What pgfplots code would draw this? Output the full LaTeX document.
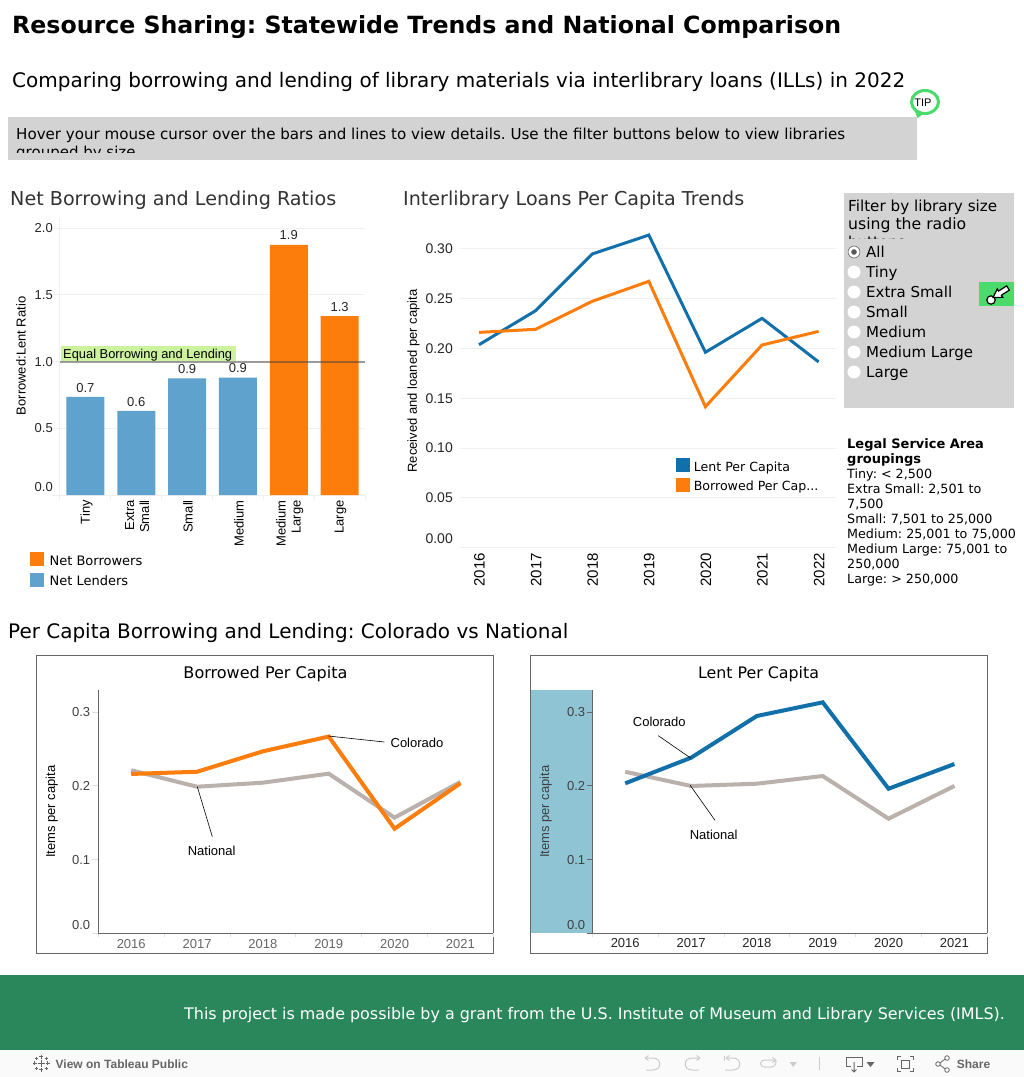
\documentclass[border=0pt]{standalone}
\usepackage{pgfplots}
\pgfplotsset{compat=1.18}
\usepackage{graphicx}
\usepackage{fontspec}
\setmainfont{DejaVu Sans}
\newfontfamily\arial{Liberation Sans}
\frenchspacing
\definecolor{cBlue}{HTML}{1170AA}
\definecolor{cOrange}{HTML}{FC7D0B}
\definecolor{cLight}{HTML}{5FA2CE}
\definecolor{cNat}{HTML}{BAB0AC}
\definecolor{cGrid}{HTML}{F0F0F0}
\definecolor{cBox}{HTML}{D3D3D3}
\definecolor{cGreen}{HTML}{2A875C}
\definecolor{cTip}{HTML}{4ADB6C}
\definecolor{cPanel}{HTML}{8FC4D4}
\definecolor{cFrame}{HTML}{666666}
\definecolor{cHi}{HTML}{CDF29E}
\definecolor{cIconL}{HTML}{CCCCCC}
\definecolor{cIconD}{HTML}{666666}
\newcommand{\fs}[1]{\fontsize{#1}{#1}\selectfont}
% text with exact width: x, baseline y, width, size, text
\newcommand{\TW}[6][black]{\node[anchor=base west,inner sep=0pt,text=#1] at (#2,#3) {\resizebox{#4pt}{!}{\fs{#5}#6}};}
\newcommand{\T}[5][black]{\node[anchor=base west,inner sep=0pt,text=#1] at (#2,#3) {\fs{#4}#5};}
\pgfplotsset{
  swatch/.style={legend image code/.code={\fill[##1,draw=none] (0pt,-5pt) rectangle (14pt,9pt); \path (#1,0pt);}},
}
\begin{document}
\begin{tikzpicture}[x=1pt,y=-1pt]
\path[use as bounding box,fill=white] (0,0) rectangle (1024,1077);
% header
\TW{12}{33}{829}{24}{\bfseries Resource Sharing: Statewide Trends and National Comparison}
\TW{12}{87}{893}{20}{Comparing borrowing and lending of library materials via interlibrary loans (ILLs) in 2022}
\fill[cBox] (8,117) rectangle (917,160);
\begin{scope}
\clip (8,117) rectangle (917,152);
\TW{16}{139}{829}{15}{Hover your mouse cursor over the bars and lines to view details. Use the filter buttons below to view libraries}
\T{16}{157}{15}{grouped by size}
\end{scope}
% tip bubble
\fill[cTip] (914,109) -- (923,114) -- (917.5,118) -- cycle;
\draw[cTip,line width=3pt,fill=white] (925,102) ellipse (13.5 and 11.5);
\node[inner sep=0pt] at (923,103) {\arial\fs{11}TIP};
% section titles
\TW[black!80]{10}{205}{326}{18}{Net Borrowing and Lending Ratios}
\TW[black!80]{403}{205}{341}{18}{Interlibrary Loans Per Capita Trends}
\TW{8}{638}{560}{19}{Per Capita Borrowing and Lending: Colorado vs National}
% filter box
\fill[cBox] (844,193) rectangle (1014,408);
\begin{scope}
\clip (844,193) rectangle (1014,238);
\TW{848}{211}{149}{15}{Filter by library size}
\TW{848}{229}{118}{15}{using the radio}
\T{848}{247}{15}{buttons}
\end{scope}
\foreach \yy/\lab in {252/All,272/Tiny,292/Extra Small,312/Small,332/Medium,352/Medium Large,372/Large}{
  \fill[white] (854,\yy) circle (6.5);
  \node[anchor=base west,inner sep=0pt] at (866,\yy+5) {\fs{15}\lab};
}
\draw[black!60,line width=0.7pt] (854,252) circle (6);
\fill[black!65] (854,252) circle (2.8);
% pointer box
\fill[cTip] (978.5,282) rectangle (1014,306);
\fill[white,draw=black,line width=1.2pt] (991,300) circle (4.2);
\fill[white,draw=black,line width=1.2pt,line join=miter]
  (1009.4,290.1) -- (1006.6,285.9) -- (998.6,291) -- (997.3,288.9) -- (993,297.6) -- (1002.7,297.3) -- (1001.4,295.2) -- cycle;
% legal
\T{847}{448}{13}{\bfseries Legal Service Area}
\T{847}{463}{13}{\bfseries groupings}
\T{847}{478}{12.7}{Tiny: < 2,500}
\T{847}{493}{12.7}{Extra Small: 2,501 to}
\T{847}{508}{12.7}{7,500}
\T{847}{523}{12.7}{Small: 7,501 to 25,000}
\T{847}{538}{12.7}{Medium: 25,001 to 75,000}
\T{847}{553}{12.7}{Medium Large: 75,001 to}
\T{847}{568}{12.7}{250,000}
\T{847}{583}{12.7}{Large: > 250,000}

\fill[cHi] (61,346) rectangle (236,362);
%%% Bar chart
\begin{axis}[
  at={(60pt,-218pt)},anchor=north west,width=305pt,height=277pt,scale only axis,
  xmin=-0.5,xmax=5.5,ymin=0,ymax=2.076,
  axis x line=bottom,axis y line=left,axis line style={-,draw=cGrid,line width=1pt},
  ytick={0,0.5,1,1.5,2},
  yticklabels={\raisebox{16pt}{0.0},0.5,1.0,1.5,2.0},
  xtick={0,1,2,3,4,5},
  xticklabels={Tiny,{Extra\\Small},Small,Medium,{Medium\\Large},Large},
  minor xtick={-0.5,0.5,1.5,2.5,3.5,4.5,5.5},
  major tick length=7pt,minor tick length=5pt,tick align=outside,
  major x tick style={draw=none},
  major y tick style={draw=cGrid,line width=1pt},
  minor x tick style={draw=cGrid,line width=1pt},
  ymajorgrids,grid style={cGrid,line width=1pt},
  yticklabel style={font=\arial\fs{13},inner sep=0pt,text=black!85},
  xticklabel style={rotate=90,anchor=east,align=right,font=\arial\fontsize{13}{15}\selectfont,inner sep=0pt,xshift=2pt,yshift=-1pt},
  ylabel={Borrowed:Lent Ratio},
  every axis y label/.style={at={(rel axis cs:-0.128,0.502)},rotate=90,anchor=center,font=\arial\fs{13}},
  legend style={at={(rel axis cs:-0.098,-0.2058)},anchor=north west,draw=none,fill=none,inner sep=0pt,row sep=6pt,font=\fs{13},nodes={inner sep=0pt}},
  legend cell align=left,swatch=19.3pt,
  every node near coord/.append style={font=\arial\fs{13},inner sep=0pt,yshift=4.5pt,text=black!85},
]
\addplot[ybar,bar width=38pt,bar shift=0pt,draw=none,fill=cOrange,
  nodes near coords={\pgfmathprintnumber[fixed,fixed zerofill,precision=1,assume math mode=true]{\pgfplotspointmeta}}]
  coordinates {(4,1.875)(5,1.34)};
\addlegendentry{Net Borrowers}
\addplot[ybar,bar width=38pt,bar shift=0pt,draw=none,fill=cLight,
  nodes near coords={\pgfmathprintnumber[fixed,fixed zerofill,precision=1,assume math mode=true]{\pgfplotspointmeta}}]
  coordinates {(0,0.735)(1,0.63)(2,0.875)(3,0.88)};
\addlegendentry{Net Lenders}
\addplot[forget plot,sharp plot,no marks,draw=black!75,opacity=0.5,line width=2pt] coordinates {(-0.5,1)(5.5,1)};
\end{axis}
\node[anchor=base west,inner sep=0pt] at (63,358.5) {\resizebox{169pt}{!}{\arial\fs{12.5}Equal Borrowing and Lending}};

%%% Line chart
\begin{axis}[
  at={(460pt,-225pt)},anchor=north west,width=376pt,height=322.5pt,scale only axis,
  xmin=-0.3357,xmax=6.307,ymin=0,ymax=0.3241,
  axis line style={draw=none},
  ytick={0,0.05,0.1,0.15,0.2,0.25,0.3},
  yticklabels={\raisebox{17pt}{0.00},0.05,0.10,0.15,0.20,0.25,0.30},
  xtick={0,1,2,3,4,5,6},
  xticklabels={2016,2017,2018,2019,2020,2021,2022},
  major tick length=7pt,tick align=outside,tick style={draw=none},
  xtick pos=bottom,ytick pos=left,
  ymajorgrids,grid style={cGrid,line width=1pt},
  yticklabel style={font=\arial\fs{14},inner sep=0pt,text=black!85},
  xticklabel style={rotate=90,anchor=east,font=\arial\fs{15},inner sep=0pt,xshift=1.5pt,yshift=-0.5pt},
  ylabel={Received and loaned per capita},
  every axis y label/.style={at={(rel axis cs:-0.1235,0.516)},rotate=90,anchor=center,font=\arial\fs{13}},
  legend style={at={(rel axis cs:0.5734,0.2775)},anchor=north west,draw=none,fill=none,inner sep=0pt,row sep=5pt,font=\fs{12.6},nodes={inner sep=0pt}},
  legend cell align=left,swatch=16.5pt,
]
\addplot[cBlue,line width=3pt,no marks] coordinates {
 (0,0.2038)(1,0.238)(2,0.295)(3,0.314)(4,0.1962)(5,0.2303)(6,0.1865)};
\addlegendentry{Lent Per Capita}
\addplot[cOrange,line width=3pt,no marks] coordinates {
 (0,0.2162)(1,0.2193)(2,0.2474)(3,0.2675)(4,0.1415)(5,0.2035)(6,0.2172)};
\addlegendentry{Borrowed Per Cap...}
\end{axis}

%%% panels
\draw[cFrame,line width=1pt] (36.7,655.3) rectangle (493.3,953.3);
\draw[cFrame,line width=1pt] (530.3,655.3) rectangle (987.3,953.3);
\fill[cPanel] (530.8,690) rectangle (592.3,933.3);
\node[anchor=base,inner sep=0pt] at (265.5,678) {\resizebox{164pt}{!}{\fs{17}Borrowed Per Capita}};
\node[anchor=base,inner sep=0pt] at (758.5,678) {\resizebox{121pt}{!}{\fs{17}Lent Per Capita}};

\begin{axis}[
  at={(98.3pt,-690pt)},anchor=north west,width=395pt,height=243.3pt,scale only axis,
  xmin=-0.5,xmax=5.5,ymin=0,ymax=0.3298,
  axis x line=bottom,axis y line=left,axis line style={-,draw=cFrame,line width=1pt},
  ytick={0,0.1,0.2,0.3},
  yticklabels={\raisebox{16pt}{0.0},0.1,0.2,0.3},
  xtick={0,1,2,3,4,5},
  xticklabels={2016,2017,2018,2019,2020,2021},
  minor xtick={-0.5,0.5,1.5,2.5,3.5,4.5,5.5},
  major tick length=6pt,minor tick length=4pt,tick align=outside,
  major x tick style={draw=none},
  major y tick style={draw=black!12,line width=0.8pt},
  minor x tick style={draw=black!12,line width=0.8pt},
  yticklabel style={font=\arial\fs{13},inner sep=0pt,text=black!75,xshift=-2pt},
  xticklabel style={font=\arial\fs{13},inner sep=0pt,text=black!60},
  ylabel={Items per capita},
  every axis y label/.style={at={(rel axis cs:-0.118,0.5)},rotate=90,anchor=center,font=\arial\fs{13}},
]
\addplot[cNat,line width=4pt,no marks] coordinates {(0,0.221)(1,0.1987)(2,0.2042)(3,0.2164)(4,0.1568)(5,0.2051)};
\addplot[cOrange,line width=4pt,no marks] coordinates {(0,0.216)(1,0.219)(2,0.2467)(3,0.2667)(4,0.1418)(5,0.2033)};
\end{axis}

\begin{axis}[
  at={(592.3pt,-690pt)},anchor=north west,width=395pt,height=243.3pt,scale only axis,
  xmin=-0.5,xmax=5.5,ymin=0,ymax=0.3298,
  axis x line=bottom,axis y line=left,axis line style={-,draw=cFrame,line width=1pt},
  ytick={0,0.1,0.2,0.3},
  yticklabels={\raisebox{16pt}{0.0},0.1,0.2,0.3},
  xtick={0,1,2,3,4,5},
  xticklabels={2016,2017,2018,2019,2020,2021},
  minor xtick={-0.5,0.5,1.5,2.5,3.5,4.5,5.5},
  major tick length=5pt,minor tick length=4pt,tick align=outside,
  major x tick style={draw=none},
  major y tick style={draw=cFrame,line width=0.8pt},
  minor x tick style={draw=black!12,line width=0.8pt},
  yticklabel style={font=\arial\fs{13},inner sep=0pt,text=black!75,xshift=-2pt},
  xticklabel style={font=\arial\fs{13},inner sep=0pt,text=black!85},
  ylabel={Items per capita},
  every axis y label/.style={at={(rel axis cs:-0.118,0.5)},rotate=90,anchor=center,font=\arial\fs{13},text=black!75},
]
\addplot[cNat,line width=4pt,no marks] coordinates {(0,0.219)(1,0.1997)(2,0.2028)(3,0.2132)(4,0.1554)(5,0.1997)};
\addplot[cBlue,line width=4pt,no marks] coordinates {(0,0.2033)(1,0.238)(2,0.2946)(3,0.3131)(4,0.196)(5,0.2295)};
\end{axis}

% annotations
\draw[black,line width=0.6pt] (328.3,736) -- (384.3,742);
\draw[black,line width=0.6pt] (197.3,786.7) -- (212.3,836.7);
\node[inner sep=0pt] at (417,742.7) {\arial\fs{13}Colorado};
\node[inner sep=0pt] at (211.7,850.7) {\arial\fs{13}National};
\draw[black,line width=0.6pt] (658.3,735.7) -- (691,758.3);
\draw[black,line width=0.6pt] (690,785) -- (715,820.3);
\node[inner sep=0pt] at (659.3,721.7) {\arial\fs{13}Colorado};
\node[inner sep=0pt] at (713.7,834.7) {\arial\fs{13}National};

% footer
\fill[cGreen] (0,975) rectangle (1024,1050);
\TW[white]{184}{1019}{820.6}{16}{This project is made possible by a grant from the U.S. Institute of Museum and Library Services (IMLS).}
\fill[black!2] (0,1050) rectangle (1024,1077);
\T[black!60]{55.5}{1068}{12}{\arial\bfseries View on Tableau Public}
\T[black!60]{956.7}{1068}{12}{\arial\bfseries Share}
% toolbar: tableau logo
\begin{scope}[cIconD,line width=0.8pt]
\foreach \cx/\cy/\r in {41/1063/3.5,41/1056.5/2,41/1069.5/2,34.5/1063/2,47.5/1063/2,36/1058/1.5,46/1058/1.5,36/1068/1.5,46/1068/1.5}{
  \draw (\cx-\r,\cy) -- (\cx+\r,\cy) (\cx,\cy-\r) -- (\cx,\cy+\r);
}
\end{scope}
% toolbar: undo / redo / revert / refresh
\begin{scope}[cIconL,line width=1pt]
\draw (645,1058) -- (653,1058) .. controls (662,1058) and (662,1070) .. (653,1070) -- (646,1070);
\draw (645,1058) -- (648.5,1055.5) (645,1058) -- (648.5,1060.5);
\draw (700,1058) -- (692,1058) .. controls (683,1058) and (683,1070) .. (692,1070) -- (699,1070);
\draw (700,1058) -- (696.5,1055.5) (700,1058) -- (696.5,1060.5);
\draw (724,1056) -- (724,1061);
\draw (726,1058) -- (733,1058) .. controls (742,1058) and (742,1070) .. (733,1070) -- (725,1070);
\draw (726,1058) -- (729.5,1055.5) (726,1058) -- (729.5,1060.5);
\draw (776,1060) -- (765,1060) .. controls (759,1060) and (759,1067) .. (765,1067) -- (771,1067) .. controls (776,1067) and (776,1062) .. (776,1060);
\draw (776,1060) -- (772.5,1057.5) (776,1060) -- (772.5,1062.5);
\fill (789.5,1062) -- (797,1062) -- (793.2,1067) -- cycle;
\draw (819,1057) -- (819,1070);
\end{scope}
% toolbar: download, fullscreen, share
\begin{scope}[cIconD,line width=1pt]
\draw (846,1057) rectangle (862,1066);
\fill[black!2] (851,1064) rectangle (857,1067);
\draw (854,1062) -- (854,1072) (851.5,1069.5) -- (854,1072) -- (856.5,1069.5);
\fill (866.5,1062) -- (874.5,1062) -- (870.5,1067) -- cycle;
\draw (901,1060) rectangle (909,1068);
\draw (897,1060) -- (897,1056.5) -- (900.5,1056.5) (909.5,1056.5) -- (913,1056.5) -- (913,1060)
      (897,1068) -- (897,1071.5) -- (900.5,1071.5) (909.5,1071.5) -- (913,1071.5) -- (913,1068);
\draw[line width=0.8pt] (938,1064) circle (2.3) (947,1058) circle (2.3) (947,1070) circle (2.3);
\draw[line width=0.8pt] (940,1063) -- (945,1059.2) (940,1065) -- (945,1068.8);
\end{scope}
\end{tikzpicture}
\end{document}
